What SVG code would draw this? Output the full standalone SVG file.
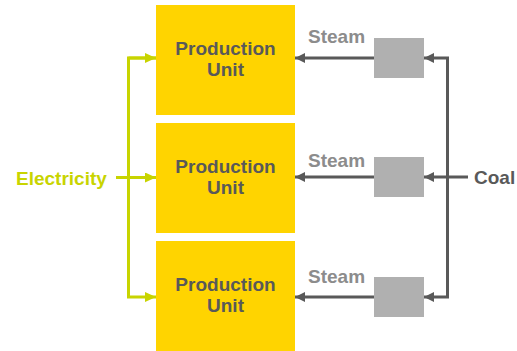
<svg xmlns="http://www.w3.org/2000/svg" width="517" height="351" viewBox="0 0 517 351">
<style>
.unit{fill:#FFD400}
.boiler{fill:#B0B0B0}
.lbl{font-family:"Liberation Sans",Arial,sans-serif;font-weight:bold;font-size:19px}
.ut{fill:#595959;text-anchor:middle}
.steam{fill:#8C8C8C}
.coal{fill:#595959}
.elec{fill:#C8D400}
.g{stroke:#595959;stroke-width:3;fill:none}
.y{stroke:#C8D400;stroke-width:3;fill:none}
</style>
<defs>
<marker id="ag" markerWidth="10" markerHeight="10" refX="10" refY="5" orient="auto" markerUnits="userSpaceOnUse"><path d="M0,0 L10,5 L0,10 Z" fill="#595959"/></marker>
<marker id="ay" markerWidth="11" markerHeight="10" refX="11" refY="5" orient="auto" markerUnits="userSpaceOnUse"><path d="M0,0 L11,5 L0,10 Z" fill="#C8D400"/></marker>
</defs>
<g id="unit1"><rect class="unit" x="156" y="5" width="139" height="110"/><text class="lbl ut" x="225.5" y="55">Production</text><text class="lbl ut" x="225.5" y="76">Unit</text></g>
<g id="unit2"><rect class="unit" x="156" y="123" width="139" height="110"/><text class="lbl ut" x="225.5" y="173">Production</text><text class="lbl ut" x="225.5" y="194">Unit</text></g>
<g id="unit3"><rect class="unit" x="156" y="241" width="139" height="110"/><text class="lbl ut" x="225.5" y="291">Production</text><text class="lbl ut" x="225.5" y="312">Unit</text></g>
<g id="boiler1"><rect class="boiler" x="374" y="38" width="50" height="40"/></g>
<g id="boiler2"><rect class="boiler" x="374" y="157" width="50" height="40"/></g>
<g id="boiler3"><rect class="boiler" x="374" y="277" width="50" height="40"/></g>
<g id="electricity"><text class="lbl elec" x="16" y="185">Electricity</text></g>
<g id="coal"><text class="lbl coal" x="474" y="184">Coal</text></g>
<g id="connectors">
<path class="y" d="M116,177.5 H156" marker-end="url(#ay)"/>
<path class="y" d="M156,58 H128.5 V297 H156" marker-end="url(#ay)"/>
<path class="y" d="M128.5,58 H156" marker-end="url(#ay)"/>
<path class="g" d="M374,58 H295" marker-end="url(#ag)"/>
<path class="g" d="M374,177 H295" marker-end="url(#ag)"/>
<path class="g" d="M374,297 H295" marker-end="url(#ag)"/>
<path class="g" d="M468,177 H424" marker-end="url(#ag)"/>
<path class="g" d="M447.5,177 V58 H424" marker-end="url(#ag)"/>
<path class="g" d="M447.5,177 V297 H424" marker-end="url(#ag)"/>
<text class="lbl steam" x="308" y="43">Steam</text>
<text class="lbl steam" x="308" y="167">Steam</text>
<text class="lbl steam" x="308" y="283">Steam</text>
</g>
</svg>
